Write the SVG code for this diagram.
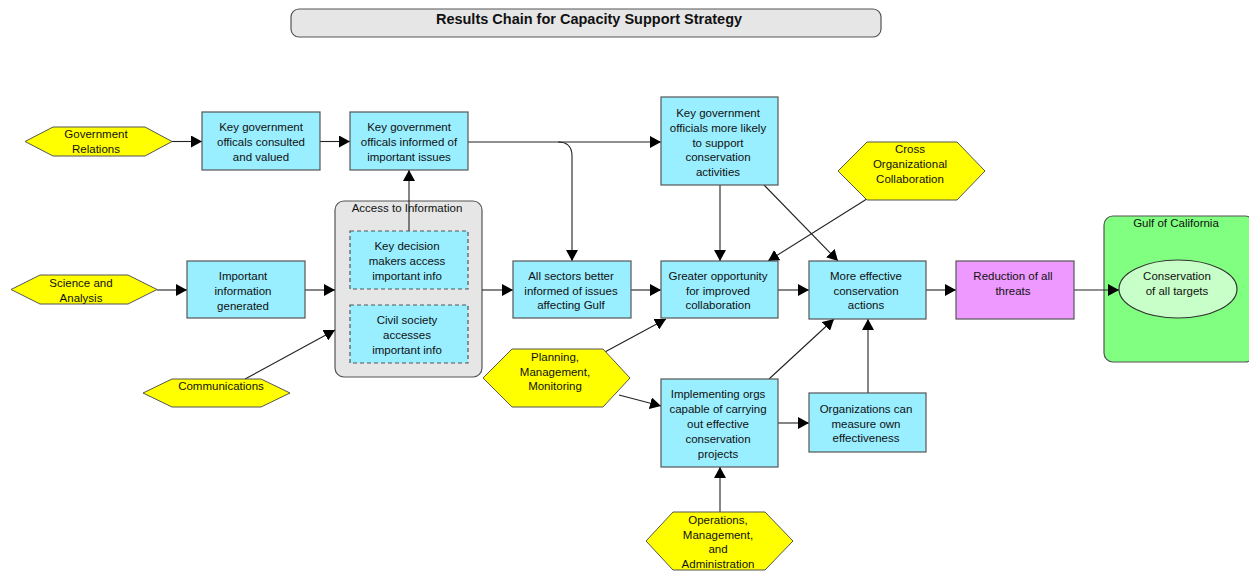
<svg xmlns="http://www.w3.org/2000/svg" width="1249" height="574" viewBox="0 0 1249 574">
  <style>
    text { font-family: "Liberation Sans", Arial, sans-serif; font-size: 11.5px; fill: #111; text-anchor: middle; }
    .title { font-size: 14.5px; font-weight: bold; }
    .box { fill: #99EEFF; stroke: #555; stroke-width: 1.2; }
    .dash { fill: #99EEFF; stroke: #555; stroke-width: 1.2; stroke-dasharray: 4 3; }
    .hex { fill: #FFFF00; stroke: #555; stroke-width: 1; }
    .group { fill: #E6E6E6; stroke: #555; stroke-width: 1.2; }
    .gulf { fill: #80FF80; stroke: #555; stroke-width: 1.2; }
    .threat { fill: #EE99FF; stroke: #555; stroke-width: 1.2; }
    .target { fill: #C8FFC8; stroke: #333; stroke-width: 1.2; }
    .link { fill: none; stroke: #222; stroke-width: 1.1; marker-end: url(#arrow); }
  </style>
  <defs>
    <marker id="arrow" markerUnits="userSpaceOnUse" markerWidth="12" markerHeight="12" refX="11" refY="6" orient="auto">
      <path d="M0,0 L11,6 L0,12 z" fill="#000"/>
    </marker>
  </defs>
  <rect width="1249" height="574" fill="#fff"/>

  <!-- title -->
  <g id="title">
    <rect x="291" y="9" width="590" height="28" rx="8" fill="#E6E6E6" stroke="#555" stroke-width="1.2"/>
    <text class="title" x="589" y="23.5">Results Chain for Capacity Support Strategy</text>
  </g>

  <!-- containers -->
  <g id="access-group">
    <rect class="group" x="335" y="201" width="147" height="176" rx="9"/>
    <text x="407" y="212">Access to Information</text>
  </g>
  <g id="gulf-group">
    <rect class="gulf" x="1104" y="216" width="150" height="146" rx="9"/>
    <text x="1176" y="227">Gulf of California</text>
  </g>

  <!-- connectors -->
  <g id="connectors">
    <path class="link" d="M172,141.5 H202"/>
    <path class="link" d="M320,141.5 H350"/>
    <path class="link" d="M468,142 H661"/>
    <path class="link" d="M558,142 Q572,142 572,156 V261"/>
    <path class="link" d="M409,231 V170"/>
    <path class="link" d="M157,290 H187"/>
    <path class="link" d="M305,290 H335"/>
    <path class="link" d="M245,379 L335,330"/>
    <path class="link" d="M482,290 H513"/>
    <path class="link" d="M631,290 H661"/>
    <path class="link" d="M778,290 H809"/>
    <path class="link" d="M926,290 H956"/>
    <path class="link" d="M1074,290 H1119"/>
    <path class="link" d="M720,185 V261"/>
    <path class="link" d="M764,185 L838,261"/>
    <path class="link" d="M870,197 L768,261"/>
    <path class="link" d="M603,353 L666,319"/>
    <path class="link" d="M619,395 L661,406"/>
    <path class="link" d="M778,423 H809"/>
    <path class="link" d="M769,379 L834,319"/>
    <path class="link" d="M868,393 V319"/>
    <path class="link" d="M720,512 V467"/>
  </g>

  <!-- strategies -->
  <g id="government-relations">
    <polygon class="hex" points="25,141.5 53,127 145,127 172,141.5 145,156 53,156"/>
    <text x="96" y="138">Government</text>
    <text x="96" y="153">Relations</text>
  </g>
  <g id="science-analysis">
    <polygon class="hex" points="11,289.5 40,275 128,275 157,289.5 128,304 40,304"/>
    <text x="81" y="287">Science and</text>
    <text x="81" y="302">Analysis</text>
  </g>
  <g id="communications">
    <polygon class="hex" points="143,393 172,379 261,379 290,393 261,407 172,407"/>
    <text x="221" y="390">Communications</text>
  </g>
  <g id="cross-org">
    <polygon class="hex" points="838,171 867,142 957,142 985,171 957,200 867,200"/>
    <text x="910" y="153">Cross</text>
    <text x="910" y="168">Organizational</text>
    <text x="910" y="183">Collaboration</text>
  </g>
  <g id="planning">
    <polygon class="hex" points="483,378 512,349 603,349 630,378 603,407 512,407"/>
    <text x="555" y="361">Planning,</text>
    <text x="555" y="376">Management,</text>
    <text x="555" y="390">Monitoring</text>
  </g>
  <g id="operations">
    <polygon class="hex" points="646,541 673,512 765,512 793,541 765,570 673,570"/>
    <text x="718" y="524">Operations,</text>
    <text x="718" y="539">Management,</text>
    <text x="718" y="553">and</text>
    <text x="718" y="568">Administration</text>
  </g>

  <!-- results -->
  <g id="consulted">
    <rect class="box" x="202" y="112" width="118" height="58"/>
    <text x="261" y="131">Key government</text>
    <text x="261" y="146">officals consulted</text>
    <text x="261" y="161">and valued</text>
  </g>
  <g id="informed">
    <rect class="box" x="350" y="112" width="118" height="58"/>
    <text x="409" y="131">Key government</text>
    <text x="409" y="146">officals informed of</text>
    <text x="409" y="161">important issues</text>
  </g>
  <g id="decision-makers">
    <rect class="dash" x="350" y="231" width="118" height="58"/>
    <text x="407" y="250">Key decision</text>
    <text x="407" y="265">makers access</text>
    <text x="407" y="280">important info</text>
  </g>
  <g id="civil-society">
    <rect class="dash" x="350" y="305" width="118" height="58"/>
    <text x="407" y="324">Civil society</text>
    <text x="407" y="339">accesses</text>
    <text x="407" y="354">important info</text>
  </g>
  <g id="info-generated">
    <rect class="box" x="187" y="261" width="118" height="57"/>
    <text x="243" y="280">Important</text>
    <text x="243" y="295">information</text>
    <text x="243" y="310">generated</text>
  </g>
  <g id="all-sectors">
    <rect class="box" x="513" y="261" width="118" height="57"/>
    <text x="571" y="280">All sectors better</text>
    <text x="571" y="295">informed of issues</text>
    <text x="571" y="309">affecting Gulf</text>
  </g>
  <g id="more-likely">
    <rect class="box" x="661" y="97" width="117" height="88"/>
    <text x="718" y="117">Key government</text>
    <text x="718" y="132">officials more likely</text>
    <text x="718" y="147">to support</text>
    <text x="718" y="161">conservation</text>
    <text x="718" y="176">activities</text>
  </g>
  <g id="greater-opportunity">
    <rect class="box" x="661" y="261" width="117" height="57"/>
    <text x="718" y="280">Greater opportunity</text>
    <text x="718" y="295">for improved</text>
    <text x="718" y="309">collaboration</text>
  </g>
  <g id="more-effective">
    <rect class="box" x="809" y="261" width="117" height="58"/>
    <text x="866" y="280">More effective</text>
    <text x="866" y="295">conservation</text>
    <text x="866" y="309">actions</text>
  </g>
  <g id="implementing">
    <rect class="box" x="661" y="379" width="117" height="88"/>
    <text x="718" y="398">Implementing orgs</text>
    <text x="718" y="413">capable of carrying</text>
    <text x="718" y="428">out effective</text>
    <text x="718" y="443">conservation</text>
    <text x="718" y="458">projects</text>
  </g>
  <g id="measure">
    <rect class="box" x="809" y="393" width="117" height="59"/>
    <text x="866" y="413">Organizations can</text>
    <text x="866" y="428">measure own</text>
    <text x="866" y="442">effectiveness</text>
  </g>
  <g id="reduction">
    <rect class="threat" x="956" y="261" width="118" height="58"/>
    <text x="1013" y="280">Reduction of all</text>
    <text x="1013" y="295">threats</text>
  </g>
  <g id="conservation-targets">
    <ellipse class="target" cx="1178" cy="289" rx="59" ry="29"/>
    <text x="1177" y="280">Conservation</text>
    <text x="1177" y="295">of all targets</text>
  </g>
</svg>
